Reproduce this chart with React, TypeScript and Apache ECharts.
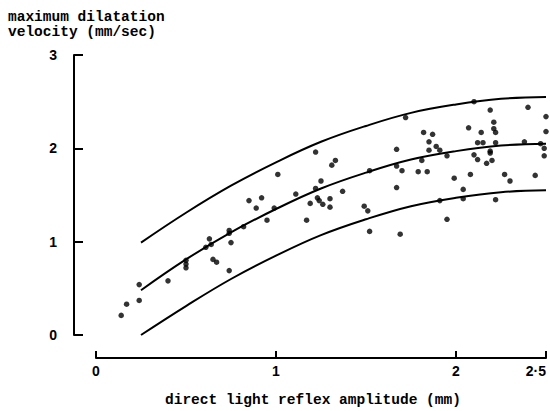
import React, { useEffect, useRef } from "react";
import * as echarts from "echarts";

const yAxisTitleLines = ["maximum dilatation", "velocity (mm/sec)"];
const xAxisTitle = "direct light reflex amplitude (mm)";
const xTickLabels: Record<string, string> = { "0": "0", "1": "1", "2": "2", "2.5": "2·5" };
const yTickLabels = ["0", "1", "2", "3"];

const curveX = [0.25, 0.5, 0.75, 1.0, 1.25, 1.5, 1.75, 2.0, 2.25, 2.5];
const upperCurve = [0.99, 1.31, 1.6, 1.85, 2.07, 2.24, 2.38, 2.47, 2.53, 2.55];
const middleCurve = [0.48, 0.81, 1.1, 1.35, 1.57, 1.74, 1.88, 1.97, 2.03, 2.05];
const lowerCurve = [0.0, 0.31, 0.6, 0.85, 1.07, 1.24, 1.38, 1.47, 1.53, 1.55];

const pointsX = [
  0.14, 0.17, 0.24, 0.24, 0.4, 0.5, 0.5, 0.5, 0.61, 0.63, 0.64, 0.65, 0.67, 0.74, 0.74, 0.75, 0.74, 0.82,
  0.85, 0.89, 0.92, 0.95, 0.99, 1.01, 1.11, 1.22, 1.31, 1.33, 1.25, 1.22, 1.19, 1.23, 1.24, 1.26, 1.3, 1.3,
  1.37, 1.17, 1.49, 1.51, 1.52, 1.52, 1.72, 1.67, 1.67, 1.7, 1.67, 1.69, 1.82, 1.87, 1.85, 1.85, 1.89, 1.91,
  1.81, 1.79, 1.84, 1.95, 1.95, 1.91, 1.99, 2.04, 2.04, 2.08, 2.07, 2.1, 2.1, 2.12, 2.12, 2.15, 2.14, 2.19,
  2.21, 2.21, 2.22, 2.22, 2.19, 2.19, 2.17, 2.2, 2.22, 2.27, 2.3, 2.38, 2.4, 2.44, 2.47, 2.5, 2.5, 2.49, 2.49,
];
const pointsY = [
  0.21, 0.33, 0.37, 0.54, 0.58, 0.8, 0.76, 0.72, 0.94, 1.03, 0.97, 0.81, 0.78, 1.12, 1.09, 0.99, 0.69, 1.16,
  1.44, 1.36, 1.47, 1.23, 1.36, 1.72, 1.51, 1.96, 1.82, 1.87, 1.65, 1.57, 1.41, 1.47, 1.44, 1.4, 1.46, 1.37,
  1.54, 1.23, 1.38, 1.33, 1.76, 1.11, 2.33, 1.99, 1.81, 1.76, 1.58, 1.08, 2.17, 2.15, 2.07, 1.98, 2.02, 1.98,
  1.87, 1.75, 1.75, 1.92, 1.24, 1.44, 1.68, 1.56, 1.46, 1.72, 2.22, 2.5, 1.93, 1.88, 2.06, 2.06, 2.17, 2.41,
  2.28, 2.21, 2.17, 2.06, 1.97, 1.95, 1.84, 1.87, 1.45, 1.72, 1.65, 2.07, 2.44, 1.71, 2.05, 2.34, 2.18, 2.0, 1.92,
];

const monoFont = 'bold 14.5px "Liberation Mono", "DejaVu Sans Mono", monospace';

export default function App() {
  const ref = useRef<HTMLDivElement>(null);
  useEffect(() => {
    if (!ref.current) return;
    const chart = echarts.init(ref.current, null, { renderer: "svg" });
    const pair = (xs: number[], ys: number[]) => xs.map((x, i) => [x, ys[i]]);
    const curveSeries = (data: number[]) => ({
      type: "line",
      data: pair(curveX, data),
      smooth: 0.4,
      showSymbol: false,
      symbol: "none",
      lineStyle: { color: "#000", width: 2 },
      z: 2,
    });
    chart.setOption({
      animation: false,
      backgroundColor: "#fff",
      grid: { left: 96, right: 4, top: 55, bottom: 76, containLabel: false, outerBoundsMode: "none" },
      xAxis: {
        type: "value",
        min: 0,
        max: 2.5,
        interval: 1,
        offset: 23,
        axisLine: { show: true, onZero: false, lineStyle: { color: "#000", width: 2 } },
        axisTick: { show: true, inside: true, length: 7, lineStyle: { color: "#000", width: 2 } },
        axisLabel: {
          color: "#000",
          margin: 6,
          fontSize: 14,
          fontWeight: "bold",
          fontFamily: '"Liberation Sans", Arial, sans-serif',
          formatter: (v: number) => xTickLabels[String(v)] ?? String(v),
          showMaxLabel: true,
          alignMaxLabel: "right",
          hideOverlap: false,
        },
        splitLine: { show: false },
      },
      yAxis: {
        type: "value",
        min: 0,
        max: 3,
        interval: 1,
        offset: 22,
        axisLine: { show: true, onZero: false, lineStyle: { color: "#000", width: 2 } },
        axisTick: { show: true, inside: true, length: 9, lineStyle: { color: "#000", width: 2 } },
        axisLabel: {
          color: "#000",
          margin: 17,
          fontSize: 14,
          fontWeight: "bold",
          fontFamily: '"Liberation Sans", Arial, sans-serif',
          formatter: (v: number) => yTickLabels[v] ?? String(v),
        },
        splitLine: { show: false },
      },
      graphic: [
        {
          type: "text",
          x: 8,
          y: 16.5,
          style: { text: yAxisTitleLines[0], font: monoFont, fill: "#000", verticalAlign: "middle" },
        },
        {
          type: "text",
          x: 8,
          y: 32,
          style: { text: yAxisTitleLines[1], font: monoFont, fill: "#000", verticalAlign: "middle" },
        },
        {
          type: "text",
          x: 165,
          y: 400,
          style: { text: xAxisTitle, font: monoFont, fill: "#000", verticalAlign: "middle" },
        },
      ],
      series: [
        curveSeries(upperCurve),
        curveSeries(middleCurve),
        curveSeries(lowerCurve),
        {
          type: "scatter",
          data: pair(pointsX, pointsY),
          symbol: "circle",
          symbolSize: 5.5,
          itemStyle: { color: "#000" },
          z: 3,
        },
      ],
    });
    return () => chart.dispose();
  }, []);
  return (
    <div
      ref={ref}
      style={{ position: "fixed", left: 0, top: 0, width: 550, height: 411, background: "#fff" }}
    />
  );
}
